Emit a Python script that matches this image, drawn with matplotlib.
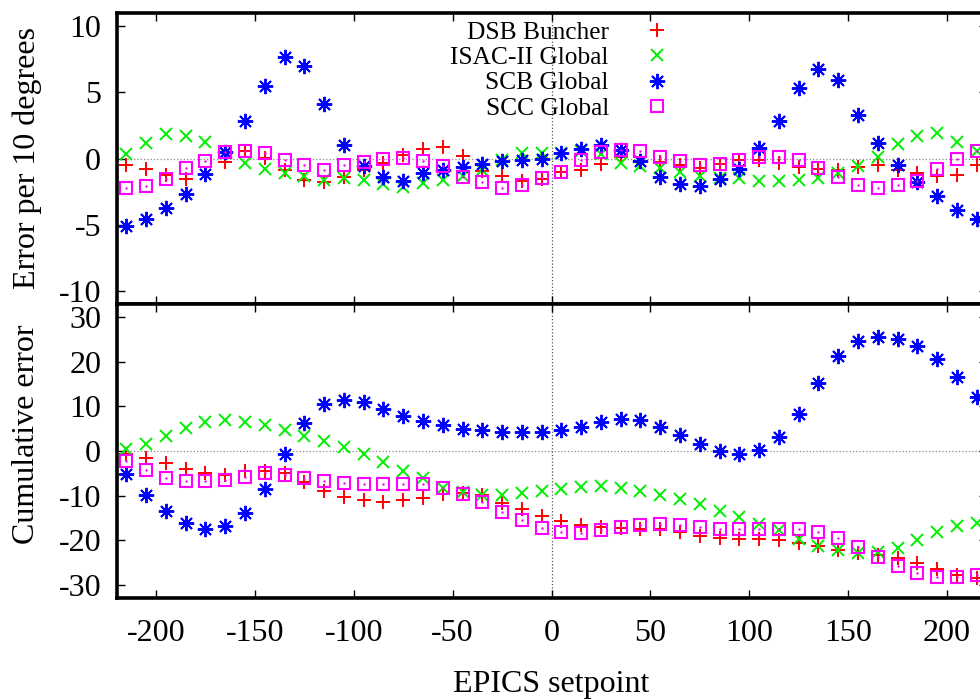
import matplotlib
matplotlib.use("Agg")
import matplotlib.pyplot as plt

plt.rcParams['font.family'] = ['Liberation Serif', 'DejaVu Serif']
plt.rcParams['axes.unicode_minus'] = False

# EPICS setpoints (every 10 degrees)
setpoint = [-215, -205, -195, -185, -175, -165, -155, -145, -135, -125, -115,
            -105, -95, -85, -75, -65, -55, -45, -35, -25, -15, -5,
            5, 15, 25, 35, 45, 55, 65, 75, 85, 95, 105,
            115, 125, 135, 145, 155, 165, 175, 185, 195, 205, 215]

# error per 10 degrees
dsb_err = [-0.5, -0.8, -1.22, -1.55, -1.15, -0.25, 0.6, 0.03, -0.85, -1.6, -1.8,
           -1.4, -0.9, -0.35, 0.28, 0.7, 0.85, 0.2, -0.95, -1.35, -1.72, -1.55,
           -1.05, -0.85, -0.42, 0.1, -0.2, -0.3, -0.47, -0.72, -0.42, -0.15, -0.1,
           -0.35, -0.67, -0.77, -0.85, -0.67, -0.47, -0.85, -1.1, -1.35, -1.27, -0.47]
isac_err = [0.35, 1.15, 1.85, 1.7, 1.27, 0.4, -0.35, -0.8, -1.1, -1.3, -1.6,
            -1.47, -1.6, -1.9, -2.14, -1.85, -1.6, -1.35, -0.85, -0.1, 0.4, 0.4,
            0.4, 0.6, 0.35, -0.35, -0.6, -0.72, -1.05, -1.35, -1.45, -1.47, -1.67,
            -1.72, -1.6, -1.47, -1.1, -0.6, 0.15, 1.1, 1.7, 1.9, 1.27, 0.6]
scb_err = [-5.14, -4.59, -3.72, -2.72, -1.17, 0.48, 2.85, 5.47, 7.69, 6.97, 4.15,
           1.03, -0.58, -1.42, -1.67, -1.1, -0.85, -0.65, -0.42, -0.22, -0.1, 0.0,
           0.4, 0.7, 1.05, 0.62, -0.22, -1.42, -1.92, -2.05, -1.52, -0.8, 0.82,
           2.85, 5.35, 6.77, 5.9, 3.27, 1.15, -0.47, -1.8, -2.8, -3.92, -4.59]
scc_err = [-2.22, -2.1, -1.52, -0.72, -0.22, 0.48, 0.6, 0.4, -0.1, -0.52, -0.85,
           -0.52, -0.3, 0.0, 0.03, -0.22, -0.6, -1.38, -1.8, -2.22, -2.0, -1.5,
           -1.0, -0.1, 0.5, 0.68, 0.6, 0.12, -0.22, -0.47, -0.4, -0.1, 0.15,
           0.15, -0.1, -0.72, -1.4, -2.02, -2.22, -2.02, -1.72, -0.8, -0.02, 0.6]

# cumulative error
dsb_cum = [-0.6, -1.5, -2.6, -4.0, -5.0, -5.3, -4.5, -4.5, -5.0, -7.0, -9.0,
           -10.3, -11.1, -11.4, -11.1, -10.5, -9.55, -9.4, -9.9, -11.65, -13.0, -14.7,
           -15.8, -16.5, -17.1, -17.3, -17.45, -17.5, -18.2, -19.0, -19.55, -19.7, -19.8,
           -19.9, -20.7, -21.4, -22.2, -22.9, -23.3, -24.1, -25.2, -26.5, -27.8, -28.6]
isac_cum = [0.5, 1.67, 3.4, 5.27, 6.4, 6.93, 6.55, 5.8, 4.67, 3.4, 2.27,
            0.9, -0.75, -2.48, -4.5, -6.0, -8.27, -9.25, -9.77, -9.77, -9.4, -9.0,
            -8.5, -8.12, -7.9, -8.35, -8.87, -9.77, -10.75, -12.0, -13.5, -14.9, -16.3,
            -17.7, -19.8, -21.3, -22.3, -22.9, -22.7, -21.8, -19.9, -18.2, -16.9, -16.2]
scb_cum = [-5.26, -9.77, -13.4, -16.2, -17.4, -16.9, -13.9, -8.5, -0.75, 6.25, 10.5,
           11.4, 10.9, 9.4, 7.9, 6.8, 5.8, 5.05, 4.67, 4.37, 4.3, 4.3,
           4.75, 5.5, 6.4, 7.15, 6.9, 5.4, 3.6, 1.5, 0.0, -0.6, 0.23,
           3.16, 8.4, 15.3, 21.3, 24.6, 25.7, 25.2, 23.5, 20.7, 16.7, 12.2]
scc_cum = [-2.26, -4.36, -6.0, -6.77, -6.77, -6.54, -5.87, -5.03, -5.4, -6.0, -6.77,
           -7.13, -7.5, -7.45, -7.4, -7.5, -8.27, -9.55, -11.4, -13.6, -15.6, -17.3,
           -18.2, -18.3, -17.8, -17.15, -16.5, -16.4, -16.7, -17.15, -17.45, -17.5, -17.5,
           -17.4, -17.5, -18.2, -19.55, -21.6, -23.8, -25.8, -27.45, -28.2, -28.2, -27.8]

labels = ['DSB Buncher', 'ISAC-II Global', 'SCB Global', 'SCC Global']
top_ticks = [-10, -5, 0, 5, 10]
bot_ticks = [-30, -20, -10, 0, 10, 20, 30]
x_ticks = [-200, -150, -100, -50, 0, 50, 100, 150, 200]

asterisk = (8, 2, 0)
styles = [dict(marker='+', color='#ff0000', ms=9.5, mew=1.4),
          dict(marker='x', color='#00ee00', ms=8.5, mew=1.4),
          dict(marker=asterisk, color='#0000ff', ms=11, mew=1.4),
          dict(marker='s', color='#ff00ff', ms=9, mew=1.5, mfc='none')]

FS = 23

fig = plt.figure(figsize=(9.8, 7), dpi=100)
# the right border sits just beyond the picture edge, as in the original
ax1 = fig.add_axes([116.5 / 980, 1 - 304 / 700, 870 / 980, 291 / 700])
ax2 = fig.add_axes([116.5 / 980, 1 - 598 / 700, 870 / 980, 294 / 700])


def draw(ax, series):
    hs = []
    for ys, st, lab in zip(series, styles, labels):
        h, = ax.plot(setpoint, ys, ls='none', label=lab, **st)
        hs.append(h)
        if st['marker'] == 's':
            ax.plot(setpoint, ys, ls='none', marker='.', ms=1.5, color=st['color'])
    ax.axhline(0, color='#888888', ls=':', lw=0.9, zorder=0)
    ax.axvline(0, color='#555555', ls=':', lw=0.9, zorder=0)
    ax.set_xlim(-220, 220)
    ax.set_xticks(x_ticks)
    for s in ax.spines.values():
        s.set_linewidth(2.6)
    ax.tick_params(direction='in', length=6, width=1.0, top=True, right=True,
                   labelsize=FS)
    ax.tick_params(axis='y', pad=11)
    ax.tick_params(axis='x', pad=15)
    return hs


hs = draw(ax1, [dsb_err, isac_err, scb_err, scc_err])
ax1.set_ylim(-11, 11)
ax1.set_yticks(top_ticks)
ax1.tick_params(labelbottom=False)

draw(ax2, [dsb_cum, isac_cum, scb_cum, scc_cum])
ax2.set_ylim(-33, 33)
ax2.set_yticks(bot_ticks)

leg = ax1.legend(handles=hs, loc='upper right', bbox_to_anchor=(680 / 980, 1 - 21 / 700),
                 bbox_transform=fig.transFigure, frameon=False, markerfirst=False,
                 numpoints=1, fontsize=18.3, handletextpad=1.0, labelspacing=0.1,
                 handlelength=1.8, borderpad=0, borderaxespad=0)

fig.text(27 / 980, 1 - 158 / 700, 'Error per 10 degrees', rotation=90,
         ha='center', va='center', fontsize=FS)
fig.text(27 / 980, 1 - 434 / 700, 'Cumulative error', rotation=90,
         ha='center', va='center', fontsize=FS)
fig.text(551 / 980, 1 - 692 / 700, 'EPICS setpoint', ha='center', va='baseline',
         fontsize=FS)

fig.savefig('out.png', dpi=100)
